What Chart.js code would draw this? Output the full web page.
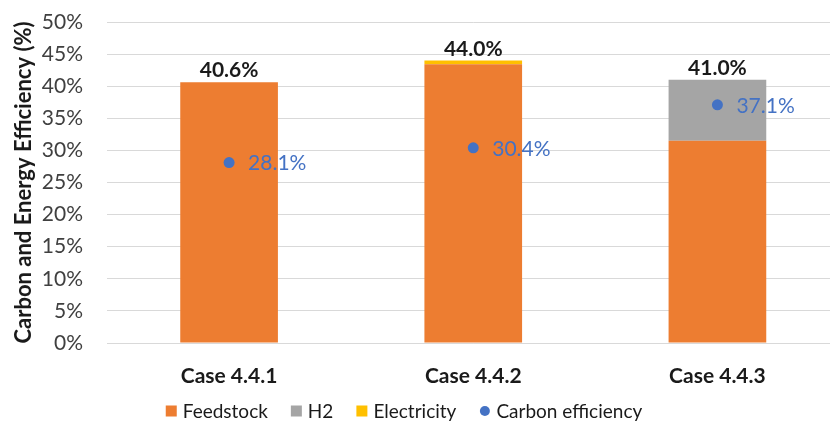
<!DOCTYPE html>
<html>
<head>
<meta charset="utf-8">
<script src="https://cdn.jsdelivr.net/npm/chart.js@4/dist/chart.umd.min.js"></script>
<style>
  html, body { margin: 0; padding: 0; background: #fff; overflow: hidden; }
  #wrap { width: 845px; height: 425px; }
</style>
</head>
<body>
<div id="wrap"><canvas id="c" width="845" height="425"></canvas></div>
<script>
const categories = ['Case 4.4.1', 'Case 4.4.2', 'Case 4.4.3'];
const feedstock = [40.6, 43.4, 31.5];
const h2 = [0, 0, 9.5];
const electricity = [0, 0.6, 0];
const totalEfficiency = [40.6, 44.0, 41.0];
const carbonEfficiency = [28.1, 30.4, 37.1];
const yTicks = [0, 5, 10, 15, 20, 25, 30, 35, 40, 45, 50];

const FONT = 'Lato, "Liberation Sans", sans-serif';
const LEGEND_CENTER_X = 404;
const LEGEND_Y = 411;

const labelPlugin = {
  id: 'valueLabels',
  afterDatasetsDraw(chart) {
    const { ctx, scales: { x, y } } = chart;
    ctx.save();
    ctx.textBaseline = 'alphabetic';
    // totals above each stack
    ctx.font = 'bold 21px ' + FONT;
    ctx.fillStyle = '#1a1a1a';
    ctx.textAlign = 'center';
    totalEfficiency.forEach((v, i) => {
      ctx.fillText(v.toFixed(1) + '%', x.getPixelForValue(i), y.getPixelForValue(v) - 5);
    });
    // carbon efficiency labels to the right of each point
    ctx.font = '21px ' + FONT;
    ctx.fillStyle = '#4472C4';
    ctx.textAlign = 'left';
    ctx.textBaseline = 'middle';
    carbonEfficiency.forEach((v, i) => {
      ctx.fillText(v.toFixed(1) + '%', x.getPixelForValue(i) + 19, y.getPixelForValue(v) + 1);
    });
    ctx.restore();
  }
};

// bottom legend: Feedstock, H2, Electricity, Carbon efficiency
const legendPlugin = {
  id: 'bottomLegend',
  afterDraw(chart) {
    const { ctx } = chart;
    const order = ['Feedstock', 'H2', 'Electricity', 'Carbon efficiency'];
    const items = order.map(name => chart.data.datasets.find(d => d.label === name));
    ctx.save();
    ctx.font = '19px ' + FONT;
    ctx.textBaseline = 'middle';
    ctx.textAlign = 'left';
    const box = 11, gapText = 6, gapItem = 23;
    const widths = items.map(d => box + gapText + ctx.measureText(d.label).width);
    const total = widths.reduce((a, b) => a + b, 0) + gapItem * (items.length - 1);
    let xPos = LEGEND_CENTER_X - total / 2;
    items.forEach((d, i) => {
      ctx.fillStyle = d.backgroundColor;
      if (d.pointStyle === 'circle') {
        ctx.beginPath();
        ctx.arc(xPos + box / 2, LEGEND_Y, 5, 0, Math.PI * 2);
        ctx.fill();
      } else {
        ctx.fillRect(xPos, LEGEND_Y - box / 2, box, box);
      }
      ctx.fillStyle = '#1a1a1a';
      ctx.fillText(d.label, xPos + box + gapText, LEGEND_Y + 1);
      xPos += widths[i] + gapItem;
    });
    ctx.restore();
  }
};

new Chart(document.getElementById('c'), {
  type: 'bar',
  data: {
    labels: categories,
    datasets: [
      { type: 'line', label: 'Carbon efficiency', data: carbonEfficiency, showLine: false,
        pointStyle: 'circle', pointRadius: 5.5, pointHoverRadius: 5.5,
        backgroundColor: '#4472C4', borderColor: '#4472C4', borderWidth: 0, order: 0 },
      { type: 'bar', label: 'Feedstock', data: feedstock, backgroundColor: '#ED7D31',
        pointStyle: 'rect', stack: 's', order: 1 },
      { type: 'bar', label: 'H2', data: h2, backgroundColor: '#A5A5A5',
        pointStyle: 'rect', stack: 's', order: 1 },
      { type: 'bar', label: 'Electricity', data: electricity, backgroundColor: '#FFC000',
        pointStyle: 'rect', stack: 's', order: 1 }
    ]
  },
  options: {
    responsive: false,
    animation: false,
    layout: { padding: { top: 0, left: 4, right: 4, bottom: 0 } },
    datasets: { bar: { categoryPercentage: 1.0, barPercentage: 0.4 } },
    scales: {
      x: {
        stacked: true,
        grid: { display: false },
        border: { color: '#d9d9d9', width: 1 },
        ticks: { color: '#1a1a1a', font: { family: FONT, size: 21, weight: 'bold' }, padding: 13 },
        afterFit(axis) { axis.height = 82; }
      },
      y: {
        stacked: true,
        min: 0, max: 50,
        afterBuildTicks(axis) { axis.ticks = yTicks.map(v => ({ value: v })); },
        afterFit(axis) { axis.width = 103; axis.paddingTop = 22; },
        grid: { color: '#d9d9d9', lineWidth: 1, drawTicks: false },
        border: { display: false },
        ticks: { color: '#404040', font: { family: FONT, size: 21 }, padding: 24,
          callback: v => v + '%' },
        title: { display: true, text: 'Carbon and Energy Efficiency (%)', color: '#1a1a1a',
          font: { family: FONT, size: 22, weight: 'bold' }, padding: { top: 7, bottom: 2 } }
      }
    },
    plugins: {
      legend: { display: false },
      tooltip: { enabled: false }
    }
  },
  plugins: [labelPlugin, legendPlugin]
});
</script>
</body>
</html>
